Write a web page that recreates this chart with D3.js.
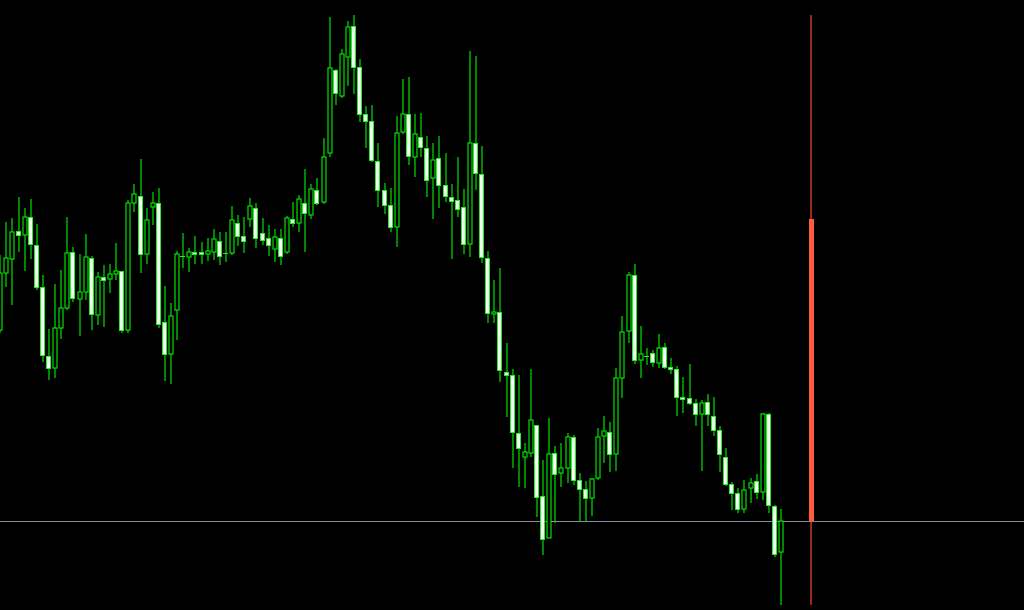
<!DOCTYPE html>
<html>
<head>
<meta charset="utf-8">
<script src="https://cdn.jsdelivr.net/npm/d3@7"></script>
<style>
html,body{margin:0;padding:0;background:#000;overflow:hidden;}
svg{display:block;}
</style>
</head>
<body>
<svg id="chart" width="1024" height="610"></svg>
<script>
// Price values (arbitrary chart units)
const opens = [280,337,351,379,375,393,365,323,254,242,
282,302,358,311,318,352,295,333,331,336,
339,280,407,414,356,403,407,288,256,300,
354,353,358,358,356,358,369,357,357,387,
374,391,402,377,372,361,372,358,391,387,
407,395,420,408,457,540,514,553,584,543,
496,489,449,420,405,383,478,496,453,473,
462,432,452,425,413,410,403,366,467,436,
352,296,298,238,235,177,153,157,185,114,
72,157,137,142,173,130,121,112,132,174,
178,156,232,279,335,250,254,257,247,263,
243,241,213,212,207,196,208,194,180,153,
126,117,101,122,129,118,196,104,58];
const closes = [337,352,378,375,393,366,323,255,242,282,
302,357,312,318,353,296,333,330,336,339,
280,407,416,356,390,407,286,256,294,356,
354,358,356,356,359,371,354,357,390,374,
369,404,372,370,365,373,354,392,387,411,
397,421,407,453,542,517,556,583,543,496,
489,450,420,405,383,477,496,454,476,463,
430,450,425,414,409,401,366,467,437,353,
297,298,240,235,178,162,158,190,113,71,
156,136,142,173,130,121,112,131,173,179,
156,232,278,335,250,256,254,248,262,243,
241,213,211,207,196,207,196,180,156,126,
117,101,120,127,118,196,105,56,89];
const highs = [355,388,392,413,402,411,386,335,281,326,
340,393,363,356,376,354,338,345,346,367,
339,410,426,451,402,418,422,324,307,359,
377,362,374,368,372,381,378,378,404,395,
393,412,407,392,385,381,381,394,408,415,
441,426,432,472,593,541,561,589,595,551,
504,505,467,427,422,494,531,533,496,497,
474,467,474,457,426,453,421,559,554,464,
359,330,342,267,241,235,167,241,185,150,
192,164,167,177,175,137,129,132,182,194,
188,242,294,338,346,284,262,260,276,267,
252,244,233,246,211,210,216,213,184,162,
128,122,130,132,136,197,197,105,101];
const lows = [277,323,305,358,339,351,320,248,230,232,
271,300,308,274,310,280,285,283,317,330,
277,277,398,337,346,385,282,229,226,270,
342,338,346,346,349,350,345,348,355,364,
357,383,362,365,354,348,345,356,383,378,
358,391,405,406,453,505,512,524,516,488,
462,448,403,396,378,363,476,445,433,453,
413,391,402,408,351,393,356,353,420,347,
287,287,228,193,142,123,122,153,93,55,
72,87,123,127,125,88,88,94,130,147,
138,139,212,267,246,232,245,243,242,241,
236,194,197,205,184,139,184,174,138,124,
100,97,97,107,111,110,97,53,5];

// Current bid level and the red indicator bar (one slot in the future)
const bidLevel = [89];
const signalBar = [{index: 133, low: 5, high: 595, from: 89, to: 391}];

const W = 1024, H = 610;
const svg = d3.select("#chart");
svg.append("rect").attr("width", W).attr("height", H).attr("fill", "#000");

const x = d3.scaleLinear().domain([0, 168]).range([-0.8, 1024]);
const y = d3.scaleLinear().domain([0, 610]).range([610, 0]);

const candles = opens.map((o, i) => ({i, o, c: closes[i], h: highs[i], l: lows[i]}));
const bulls = candles.filter(d => d.c > d.o);
const bears = candles.filter(d => d.c <= d.o);

const cx = d => Math.round(x(d.i));

// bid line
svg.selectAll("rect.bid").data(bidLevel).enter().append("rect")
  .attr("class", "bid")
  .attr("x", 0).attr("width", W)
  .attr("y", d => Math.round(y(d))).attr("height", 1)
  .attr("fill", "#8a8a9e");

// wicks
svg.append("g").selectAll("line.wick").data(candles).enter().append("line")
  .attr("class", "wick")
  .attr("x1", d => cx(d) + 1).attr("x2", d => cx(d) + 1)
  .attr("y1", d => Math.round(y(d.h))).attr("y2", d => Math.round(y(d.l)))
  .attr("stroke", "#00e000").attr("stroke-width", 1.2);

// bullish (hollow) bodies
svg.append("g").selectAll("rect.bull").data(bulls).enter().append("rect")
  .attr("class", "bull")
  .attr("x", d => cx(d) - 1)
  .attr("width", 4)
  .attr("y", d => Math.round(y(d.c)))
  .attr("height", d => Math.max(1, Math.round(y(d.o)) - Math.round(y(d.c))))
  .attr("fill", "#000")
  .attr("stroke", "#00e000")
  .attr("stroke-width", 1.2);

// bearish (filled) bodies
svg.append("g").attr("shape-rendering", "crispEdges")
  .selectAll("rect.bear").data(bears).enter().append("rect")
  .attr("class", "bear")
  .attr("x", d => cx(d) - 1.5)
  .attr("width", 4)
  .attr("y", d => Math.round(y(d.o)) + 0.5)
  .attr("height", d => Math.max(0.01, Math.round(y(d.c)) - Math.round(y(d.o))))
  .attr("fill", "#f2fff2")
  .attr("stroke", "#22f022")
  .attr("stroke-width", 1);

// red indicator bar
const rg = svg.append("g");
rg.selectAll("line.sigline").data(signalBar).enter().append("line")
  .attr("x1", d => Math.round(x(d.index))).attr("x2", d => Math.round(x(d.index)))
  .attr("y1", d => y(d.high)).attr("y2", d => y(d.low))
  .attr("stroke", "#ff4a2a").attr("stroke-width", 1.2);
rg.selectAll("rect.sig").data(signalBar).enter().append("rect")
  .attr("shape-rendering", "crispEdges")
  .attr("x", d => Math.round(x(d.index)) - 2)
  .attr("width", 5)
  .attr("y", d => y(d.to))
  .attr("height", d => y(d.from) - y(d.to))
  .attr("fill", "#ff5b40");
</script>
</body>
</html>
